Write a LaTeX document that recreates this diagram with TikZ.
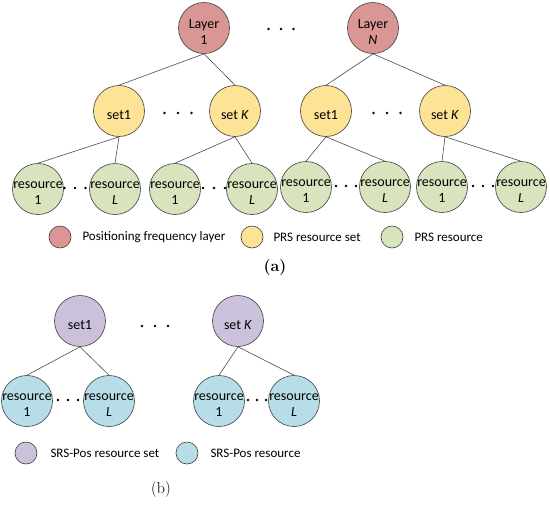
\documentclass[tikz,border=0pt]{standalone}
\usepackage{fontspec}
\newfontfamily\calfont{Carlito}
\usetikzlibrary{positioning}
\definecolor{layerred}{RGB}{217,150,148}
\definecolor{setyellow}{RGB}{252,227,150}
\definecolor{resgreen}{RGB}{215,228,189}
\definecolor{srspurple}{RGB}{204,193,218}
\definecolor{srsblue}{RGB}{183,222,232}
\newcommand{\dotrow}[3]{\foreach \i in {-1,0,1} \fill (#1+\i*#3,#2) circle (1.3pt);}
\begin{document}
\begin{tikzpicture}[x=1pt, y=-1pt, font=\calfont\fontsize{13}{17}\selectfont,
  blob/.style={circle,draw=black!75,line width=0.6pt,minimum size=51pt,inner sep=0pt,
    label={[align=center,inner sep=0pt,yshift=-4pt,font=\calfont\fontsize{14}{16}\selectfont]center:#1}},
  key/.style={circle,draw=black!75,line width=0.6pt,minimum size=22pt,inner sep=0pt},
  keytext/.style={inner sep=0pt}, link/.style={draw=black!70,line width=0.6pt}]
\useasboundingbox (0,0) rectangle (550,507);
% (a): layers, PRS resource sets, PRS resources
\node[blob={Layer\\1},fill=layerred] (L1) at (204,28) {};
\node[blob={Layer\\\textit{N}},fill=layerred] (LN) at (373,28) {};
\node[blob={set1},fill=setyellow] (s1a) at (119,111) {};
\node[blob={set \textit{K}},fill=setyellow] (sKa) at (235,111) {};
\node[blob={set1},fill=setyellow] (s1b) at (326,111) {};
\node[blob={set \textit{K}},fill=setyellow] (sKb) at (445,111) {};
\node[blob={resource\\1},fill=resgreen] (ra1) at (38,189) {};
\node[blob={resource\\\textit{L}},fill=resgreen] (raL) at (115,189) {};
\node[blob={resource\\1},fill=resgreen] (rb1) at (175,189) {};
\node[blob={resource\\\textit{L}},fill=resgreen] (rbL) at (252,189) {};
\node[blob={resource\\1},fill=resgreen] (rc1) at (306,187) {};
\node[blob={resource\\\textit{L}},fill=resgreen] (rcL) at (385,187) {};
\node[blob={resource\\1},fill=resgreen] (rd1) at (442,187) {};
\node[blob={resource\\\textit{L}},fill=resgreen] (rdL) at (521,187) {};
\dotrow{281}{29}{12.5}
\dotrow{178}{113}{13.5} \dotrow{387}{113}{13.5}
\dotrow{75}{188}{10.5} \dotrow{214}{188}{11} \dotrow{346}{186}{10} \dotrow{483}{186}{10}
% (a) legend
\node[key,fill=layerred] (kl) at (60,237) {};
\node[keytext,right=11pt of kl] (kltext) {Positioning frequency layer};
\node[key,fill=setyellow] (ks) at (252,237) {};
\node[keytext,right=10pt of ks] (kstext) {PRS resource set};
\node[key,fill=resgreen] (kr) at (392,237) {};
\node[keytext,right=11pt of kr] (krtext) {PRS resource};
\node[font=\rmfamily\fontsize{16}{18}\selectfont\bfseries] (capa) at (275,268) {(a)};
% (b): SRS-Pos resource sets and resources
\node[blob={set1},fill=srspurple] (p1) at (80,321) {};
\node[blob={set \textit{K}},fill=srspurple] (pK) at (238,321) {};
\node[blob={resource\\1},fill=srsblue] (t11) at (27,401) {};
\node[blob={resource\\\textit{L}},fill=srsblue] (t1L) at (109,401) {};
\node[blob={resource\\1},fill=srsblue] (tK1) at (219,401) {};
\node[blob={resource\\\textit{L}},fill=srsblue] (tKL) at (294,401) {};
\dotrow{155}{326}{13}
\dotrow{68}{400}{10} \dotrow{257}{400}{9}
% (b) legend
\node[key,fill=srspurple] (kp) at (26,453) {};
\node[keytext,right=13pt of kp] (kptext) {SRS-Pos resource set};
\node[key,fill=srsblue] (kb) at (187,453) {};
\node[keytext,right=12pt of kb] (kbtext) {SRS-Pos resource};
\node[font=\rmfamily\fontsize{16}{18}\selectfont] (capb) at (161,490) {(b)};
% tree edges
\foreach \a/\b in {L1/s1a,L1/sKa,LN/s1b,LN/sKb,s1a/ra1,s1a/raL,sKa/rb1,sKa/rbL,
  s1b/rc1,s1b/rcL,sKb/rd1,sKb/rdL,p1/t11,p1/t1L,pK/tK1,pK/tKL}
  \draw[link] (\a.south) -- (\b.north);
\end{tikzpicture}
\end{document}
